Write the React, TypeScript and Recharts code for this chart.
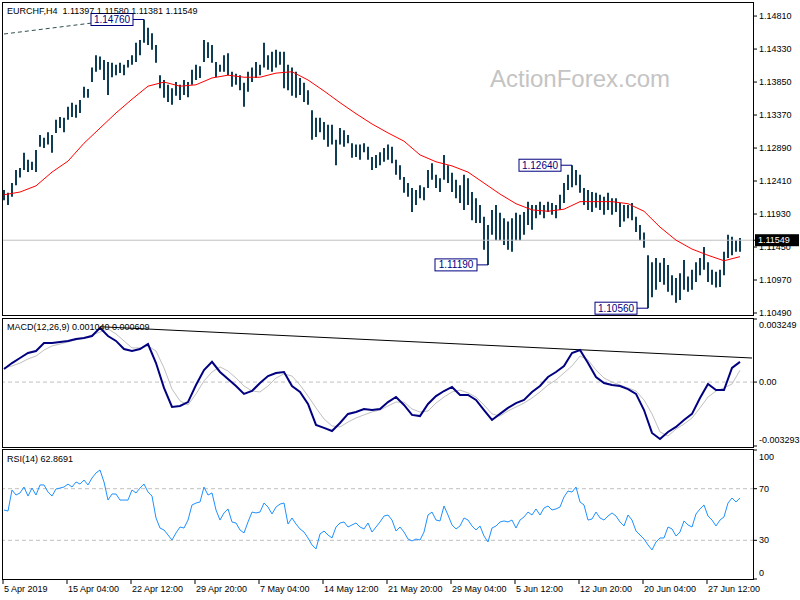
import React from "react";
import {
  ComposedChart,
  Bar,
  Line,
  XAxis,
  YAxis,
  ReferenceLine,
  ReferenceDot,
} from "recharts";

// EURCHF H4 — price bars, MA, MACD(12,26,9), RSI(14)

const timeLabels = [
  "5 Apr 2019", "15 Apr 04:00", "22 Apr 12:00", "29 Apr 20:00", "7 May 04:00", "14 May 12:00",
  "21 May 20:00", "29 May 04:00", "5 Jun 12:00", "12 Jun 20:00", "20 Jun 04:00", "27 Jun 12:00",
];

const barHigh = [
  1.1228, 1.1224, 1.1238, 1.1257, 1.1260, 1.1282, 1.1272, 1.1269, 1.1286, 1.1308,
  1.1304, 1.1312, 1.1308, 1.1330, 1.1334, 1.1333, 1.1349, 1.1355, 1.1352, 1.1359,
  1.1378, 1.1375, 1.1406, 1.1424, 1.1422, 1.1417, 1.1414, 1.1413, 1.1410, 1.1413,
  1.1410, 1.1417, 1.1424, 1.1442, 1.1446, 1.1476, 1.1464, 1.1456, 1.1439, 1.1395,
  1.1388, 1.1381, 1.1376, 1.1385, 1.1381, 1.1388, 1.1385, 1.1403, 1.1410, 1.1408,
  1.1446, 1.1443, 1.1439, 1.1414, 1.1410, 1.1424, 1.1427, 1.1400, 1.1397, 1.1395,
  1.1384, 1.1400, 1.1406, 1.1414, 1.1410, 1.1442, 1.1424, 1.1429, 1.1432, 1.1429,
  1.1429, 1.1410, 1.1406, 1.1400, 1.1391, 1.1384, 1.1373, 1.1344, 1.1333, 1.1333,
  1.1327, 1.1323, 1.1323, 1.1301, 1.1318, 1.1315, 1.1308, 1.1296, 1.1294, 1.1294,
  1.1296, 1.1291, 1.1276, 1.1279, 1.1283, 1.1289, 1.1294, 1.1291, 1.1272, 1.1264,
  1.1247, 1.1238, 1.1231, 1.1228, 1.1235, 1.1232, 1.1257, 1.1267, 1.1250, 1.1245,
  1.1279, 1.1264, 1.1253, 1.1243, 1.1235, 1.1250, 1.1245, 1.1225, 1.1216, 1.1206,
  1.1189, 1.1177, 1.1199, 1.1206, 1.1195, 1.1187, 1.1182, 1.1187, 1.1195, 1.1192,
  1.1196, 1.1211, 1.1206, 1.1206, 1.1211, 1.1206, 1.1211, 1.1209, 1.1206, 1.1221,
  1.1238, 1.1250, 1.1264, 1.1257, 1.1250, 1.1231, 1.1228, 1.1225, 1.1224, 1.1221,
  1.1218, 1.1224, 1.1216, 1.1216, 1.1209, 1.1206, 1.1206, 1.1209, 1.1189, 1.1177,
  1.1166, 1.1133, 1.1123, 1.1129, 1.1122, 1.1129, 1.1119, 1.1104, 1.1100, 1.1107,
  1.1126, 1.1102, 1.1112, 1.1123, 1.1129, 1.1145, 1.1123, 1.1112, 1.1109, 1.1112,
  1.1138, 1.1163, 1.1160, 1.1155, 1.1158,
];

const barLow = [
  1.1213, 1.1206, 1.1218, 1.1235, 1.1246, 1.1257, 1.1254, 1.1257, 1.1254, 1.1291,
  1.1289, 1.1294, 1.1282, 1.1311, 1.1318, 1.1312, 1.1330, 1.1334, 1.1333, 1.1340,
  1.1362, 1.1362, 1.1385, 1.1400, 1.1403, 1.1388, 1.1366, 1.1392, 1.1395, 1.1398,
  1.1395, 1.1406, 1.1410, 1.1414, 1.1424, 1.1442, 1.1439, 1.1432, 1.1413, 1.1376,
  1.1362, 1.1356, 1.1352, 1.1365, 1.1359, 1.1366, 1.1363, 1.1381, 1.1388, 1.1391,
  1.1414, 1.1420, 1.1413, 1.1392, 1.1400, 1.1400, 1.1395, 1.1378, 1.1381, 1.1373,
  1.1349, 1.1371, 1.1385, 1.1391, 1.1395, 1.1406, 1.1403, 1.1400, 1.1406, 1.1410,
  1.1376, 1.1373, 1.1365, 1.1362, 1.1366, 1.1356, 1.1352, 1.1301, 1.1305, 1.1312,
  1.1301, 1.1291, 1.1294, 1.1264, 1.1294, 1.1291, 1.1296, 1.1275, 1.1276, 1.1272,
  1.1283, 1.1272, 1.1257, 1.1260, 1.1264, 1.1269, 1.1272, 1.1267, 1.1250, 1.1243,
  1.1224, 1.1218, 1.1196, 1.1206, 1.1216, 1.1213, 1.1231, 1.1243, 1.1231, 1.1225,
  1.1243, 1.1238, 1.1225, 1.1216, 1.1209, 1.1199, 1.1206, 1.1184, 1.1180, 1.1180,
  1.1141, 1.1119, 1.1163, 1.1155, 1.1155, 1.1148, 1.1141, 1.1138, 1.1155, 1.1155,
  1.1163, 1.1177, 1.1170, 1.1187, 1.1192, 1.1187, 1.1196, 1.1192, 1.1187, 1.1199,
  1.1209, 1.1228, 1.1232, 1.1235, 1.1224, 1.1206, 1.1199, 1.1196, 1.1202, 1.1199,
  1.1192, 1.1199, 1.1192, 1.1196, 1.1174, 1.1182, 1.1187, 1.1184, 1.1167, 1.1155,
  1.1144, 1.1056, 1.1072, 1.1083, 1.1094, 1.1090, 1.1080, 1.1075, 1.1064, 1.1068,
  1.1083, 1.1080, 1.1083, 1.1094, 1.1104, 1.1112, 1.1094, 1.1090, 1.1086, 1.1087,
  1.1104, 1.1129, 1.1133, 1.1138, 1.1138,
];

// moving average, one value every 4th bar
const maValues = [
  1.1221, 1.1225, 1.1234, 1.1254, 1.1270, 1.1296, 1.1318, 1.1340, 1.1360, 1.1379,
  1.1385, 1.1379, 1.1381, 1.1391, 1.1395, 1.1392, 1.1392, 1.1398, 1.1400, 1.1388,
  1.1372, 1.1355, 1.1339, 1.1324, 1.1311, 1.1299, 1.1279, 1.1269, 1.1263, 1.1254,
  1.1238, 1.1222, 1.1208, 1.1199, 1.1197, 1.1200, 1.1211, 1.1211, 1.1211, 1.1208,
  1.1197, 1.1174, 1.1155, 1.1142, 1.1133, 1.1125, 1.1131,
];

// MACD main / signal, one value every 2nd bar
const macdMain = [
  0.00067, 0.00098, 0.00124, 0.0015, 0.0016, 0.00201, 0.00201, 0.00207, 0.00212, 0.00222,
  0.00227, 0.00237, 0.00279, 0.00237, 0.00212, 0.0017, 0.0016, 0.0017, 0.00196, 0.00098,
  -0.0003, -0.00128, -0.00123, -0.00103, -0.00015, 0.00062, 0.00104, 0.00052, 0.00016, -0.0002,
  -0.00061, -0.00046, -0.00005, 0.00031, 0.00047, 0.00052, -0.0002, -0.00051, -0.00113, -0.00221,
  -0.00236, -0.00252, -0.00211, -0.00164, -0.00154, -0.00139, -0.00144, -0.00139, -0.00103, -0.00077,
  -0.00118, -0.00169, -0.00175, -0.00113, -0.00072, -0.00046, -0.00025, -0.00066, -0.00066, -0.00092,
  -0.00144, -0.00195, -0.00164, -0.00133, -0.00108, -0.00092, -0.00051, -0.0002, 0.00026, 0.00052,
  0.00083, 0.0015, 0.00165, 0.00098, 0.00026, -0.00005, -0.00015, -0.0002, -0.00036, -0.00061,
  -0.00144, -0.00262, -0.00293, -0.00257, -0.00231, -0.00195, -0.00164, -0.00082, -0.0001, -0.00041,
  -0.00041, 0.00073, 0.00104,
];

const macdSignal = [
  0.00073, 0.00083, 0.00098, 0.00119, 0.00134, 0.00165, 0.00186, 0.00196, 0.00207, 0.00217,
  0.00227, 0.00243, 0.00258, 0.00274, 0.00248, 0.00212, 0.00176, 0.00176, 0.00186, 0.0016,
  0.00073, -0.00036, -0.00097, -0.00118, -0.00061, 0.00006, 0.00052, 0.00078, 0.00057, 0.00021,
  -0.0002, -0.00046, -0.00051, -0.0002, 0.00021, 0.00042, 0.00031, -0.00015, -0.00072, -0.00133,
  -0.0019, -0.00226, -0.00231, -0.00206, -0.00185, -0.00169, -0.00154, -0.00144, -0.00123, -0.00103,
  -0.00103, -0.00139, -0.00154, -0.00149, -0.00108, -0.00077, -0.00051, -0.00041, -0.00056, -0.00077,
  -0.00118, -0.00164, -0.00175, -0.00149, -0.00128, -0.00108, -0.00082, -0.00051, -0.00015, 0.00011,
  0.00047, 0.00083, 0.00134, 0.00114, 0.00062, 0.00021, 0.0, -0.00015, -0.0003, -0.00046,
  -0.00092, -0.00164, -0.00257, -0.00278, -0.00242, -0.00216, -0.00185, -0.00133, -0.00077, -0.00046,
  -0.0003, -0.0001, 0.000609,
];

const rsiValues = [
  53.5, 52.7, 69.0, 65.1, 66.7, 71.3, 64.3, 70.5, 65.1, 72.9,
  72.9, 67.4, 64.3, 69.8, 70.5, 71.3, 73.6, 71.3, 75.2, 73.6,
  76.7, 72.9, 78.3, 82.2, 84.5, 75.2, 61.2, 65.9, 65.9, 61.2,
  61.2, 61.2, 69.0, 66.7, 70.5, 73.6, 67.4, 64.3, 47.3, 39.5,
  38.0, 34.1, 30.2, 35.7, 40.3, 39.5, 45.7, 57.4, 58.9, 59.7,
  71.3, 65.1, 66.7, 53.5, 45.7, 51.2, 54.3, 44.2, 43.4, 38.0,
  35.7, 44.2, 51.9, 51.2, 51.9, 58.9, 55.8, 50.4, 55.8, 58.1,
  58.9, 42.6, 47.3, 42.6, 38.8, 36.4, 31.8, 26.4, 23.3, 34.9,
  37.2, 34.1, 31.8, 40.3, 43.4, 44.2, 40.3, 41.9, 43.4, 40.3,
  38.8, 43.4, 36.4, 40.3, 44.2, 48.8, 49.6, 45.7, 37.2, 40.3,
  36.4, 31.0, 29.5, 31.0, 30.2, 36.4, 49.6, 51.9, 45.7, 45.0,
  56.6, 49.6, 41.9, 38.8, 41.1, 47.3, 45.7, 41.1, 38.0, 41.1,
  33.3, 28.7, 39.5, 41.1, 44.2, 45.0, 44.2, 45.7, 39.5, 45.7,
  48.1, 51.9, 49.6, 54.3, 49.6, 55.0, 56.6, 53.5, 54.3, 55.8,
  63.6, 68.2, 67.4, 71.3, 59.7, 57.4, 45.7, 46.5, 51.9, 47.3,
  45.7, 48.8, 51.2, 48.8, 44.2, 41.1, 49.6, 45.7, 37.2, 34.1,
  31.0, 26.4, 22.5, 28.7, 31.8, 31.8, 40.3, 38.8, 33.3, 36.4,
  45.0, 41.9, 40.3, 50.4, 54.3, 57.4, 48.8, 45.7, 41.1, 45.7,
  48.1, 58.9, 62.8, 59.7, 62.87,
];

const priceTicks = [1.1481, 1.1433, 1.1385, 1.1337, 1.1289, 1.1241, 1.1193, 1.1145, 1.1097, 1.1049];
const lastPrice = 1.11549;
const macdTicks = [0.003249, 0, -0.003293];
const rsiTicks = [100, 70, 30, 0];

const swingLabels = [
  { k: 35, price: 1.1476, text: "1.14760" },
  { k: 121, price: 1.1119, text: "1.11190" },
  { k: 142, price: 1.1264, text: "1.12640" },
  { k: 161, price: 1.1056, text: "1.10560" },
];

const SLOTS = 188; // a few empty slots on the right, like MT4's shift
const rows = Array.from({ length: SLOTS }, (_, k) => ({
  k,
  high: k < barHigh.length ? barHigh[k] : null,
  low: k < barLow.length ? barLow[k] : null,
  ma: k % 4 === 0 && k / 4 < maValues.length ? maValues[k / 4] : null,
  macd: k % 2 === 0 && k / 2 < macdMain.length ? macdMain[k / 2] : null,
  signal: k % 2 === 0 && k / 2 < macdSignal.length ? macdSignal[k / 2] : null,
  rsi: k < rsiValues.length ? rsiValues[k] : null,
}));

const FONT = "'Liberation Sans', Arial, sans-serif";
const MARGIN_X = { left: 2, right: 0 };

function PriceTick(props: any) {
  const { x, y, payload } = props;
  if (payload.value === lastPrice) {
    return (
      <g>
        <rect x={x - 4} y={y - 6} width={44} height={12} fill="#000" />
        <text x={x - 1} y={y + 3} fontSize={9} fill="#fff">
          {lastPrice.toFixed(5)}
        </text>
      </g>
    );
  }
  return (
    <text x={x} y={y + 3} fontSize={9} fill="#000">
      {payload.value.toFixed(5)}
    </text>
  );
}

function MacdTick(props: any) {
  const { x, y, payload } = props;
  const v = payload.value;
  const label = v === 0 ? "0.00" : v.toFixed(6);
  const shift = v > 0 ? 6 : v < 0 ? -6 : 0;
  return (
    <text x={x} y={y + 3 + shift} fontSize={9} fill="#000">
      {label}
    </text>
  );
}

function RsiTick(props: any) {
  const { x, y, payload } = props;
  const v = payload.value;
  const shift = v === 100 ? 7 : v === 0 ? -6 : 0;
  return (
    <text x={x} y={y + 3 + shift} fontSize={9} fill="#000">
      {v}
    </text>
  );
}

function TimeTick(props: any) {
  const { x, y, payload } = props;
  const k = payload.value;
  if (k % 16 !== 0) return <g />;
  return (
    <g>
      <line x1={x - 1} y1={y + 1} x2={x - 1} y2={y + 5} stroke="#000" />
      <text x={x} y={y + 13} fontSize={9} fill="#000">
        {timeLabels[k / 16]}
      </text>
    </g>
  );
}

function SwingTag(props: any) {
  const { cx, cy, text } = props;
  return (
    <g>
      <line x1={cx - 11} y1={cy} x2={cx} y2={cy} stroke="#000080" />
      <rect x={cx - 53} y={cy - 6} width={42} height={12} fill="#fff" stroke="#000080" />
      <text x={cx - 32} y={cy + 3.5} textAnchor="middle" fontSize={10} fill="#000080">
        {text}
      </text>
    </g>
  );
}

export default function App() {
  return (
    <div
      style={{
        position: "absolute",
        left: 0,
        top: 0,
        width: 800,
        height: 600,
        background: "#fff",
        fontFamily: FONT,
        overflow: "hidden",
      }}
    >
      {/* price panel */}
      <div style={{ position: "absolute", left: 0, top: 0 }}>
        <ComposedChart width={800} height={318} data={rows} margin={{ top: 3, bottom: 3, ...MARGIN_X }}>
          <XAxis dataKey="k" type="category" scale="band" hide />
          <YAxis
            orientation="right"
            width={46}
            domain={[1.10461, 1.15]}
            allowDataOverflow
            ticks={[...priceTicks, lastPrice]}
            interval={0}
            axisLine={false}
            tickSize={3}
            tickMargin={2}
            tickLine={{ stroke: "#000" }}
            tick={<PriceTick />}
          />
          <ReferenceLine y={lastPrice} stroke="#c0c0c0" />
          <ReferenceLine
            segment={[
              { x: 0, y: 1.14549 },
              { x: 22, y: 1.14709 },
            ]}
            stroke="#2f4f4f"
            strokeDasharray="4 3"
          />
          <Bar
            dataKey={(d: any) => (d.high == null ? null : [d.low, d.high])}
            fill="#0f3d56"
            barSize={2}
            isAnimationActive={false}
          />
          <Line
            dataKey="ma"
            stroke="#ff0000"
            strokeWidth={1}
            dot={false}
            connectNulls
            isAnimationActive={false}
          />
          {swingLabels.map((s) => (
            <ReferenceDot
              key={s.text}
              x={s.k}
              y={s.price}
              r={0}
              shape={(p: any) => <SwingTag {...p} text={s.text} />}
            />
          ))}
        </ComposedChart>
      </div>

      {/* MACD panel */}
      <div style={{ position: "absolute", left: 0, top: 318 }}>
        <ComposedChart width={800} height={129} data={rows} margin={{ top: 1, bottom: 1, ...MARGIN_X }}>
          <XAxis dataKey="k" type="category" scale="band" hide />
          <YAxis
            orientation="right"
            width={46}
            domain={[-0.003293, 0.003249]}
            allowDataOverflow
            ticks={macdTicks}
            interval={0}
            axisLine={false}
            tickSize={3}
            tickMargin={2}
            tickLine={{ stroke: "#000" }}
            tick={<MacdTick />}
          />
          <ReferenceLine y={0} stroke="#c0c0c0" strokeDasharray="4 3" />
          <ReferenceLine
            segment={[
              { x: 24, y: 0.00285 },
              { x: 187, y: 0.00124 },
            ]}
            stroke="#000"
          />
          <Line
            dataKey="signal"
            stroke="#c0c0c0"
            strokeWidth={1}
            dot={false}
            connectNulls
            isAnimationActive={false}
          />
          <Line
            dataKey="macd"
            stroke="#000080"
            strokeWidth={2}
            dot={false}
            connectNulls
            isAnimationActive={false}
          />
        </ComposedChart>
      </div>

      {/* RSI panel + time axis */}
      <div style={{ position: "absolute", left: 0, top: 449 }}>
        <ComposedChart width={800} height={151} data={rows} margin={{ top: 1, bottom: 0, ...MARGIN_X }}>
          <XAxis
            dataKey="k"
            type="category"
            scale="band"
            height={21}
            axisLine={false}
            tickLine={false}
            tickSize={0}
            tickMargin={0}
            interval={0}
            tick={<TimeTick />}
          />
          <YAxis
            orientation="right"
            width={46}
            domain={[0, 100]}
            allowDataOverflow
            ticks={rsiTicks}
            interval={0}
            axisLine={false}
            tickSize={3}
            tickMargin={2}
            tickLine={{ stroke: "#000" }}
            tick={<RsiTick />}
          />
          <ReferenceLine y={70} stroke="#c0c0c0" strokeDasharray="4 3" />
          <ReferenceLine y={30} stroke="#c0c0c0" strokeDasharray="4 3" />
          <Line
            dataKey="rsi"
            stroke="#1e90ff"
            strokeWidth={1}
            dot={false}
            isAnimationActive={false}
          />
        </ComposedChart>
      </div>

      {/* frames and captions */}
      <svg
        width={800}
        height={600}
        style={{ position: "absolute", left: 0, top: 0, pointerEvents: "none" }}
      >
        <rect x={2.5} y={2.5} width={751} height={313} fill="none" stroke="#000" />
        <rect x={2.5} y={318.5} width={751} height={129} fill="none" stroke="#000" />
        <rect x={2.5} y={449.5} width={751} height={130} fill="none" stroke="#000" />
        <text x={490} y={87} fontSize={24} fill="#c4c4c4">
          ActionForex.com
        </text>
        <text x={7} y={14} fontSize={9} fill="#000" style={{ whiteSpace: "pre" }}>
          {"EURCHF,H4  1.11397 1.11580 1.11381 1.11549"}
        </text>
        <text x={7} y={330} fontSize={9} fill="#000">
          MACD(12,26,9) 0.001040 0.000609
        </text>
        <text x={7} y={462} fontSize={9} fill="#000">
          RSI(14) 62.8691
        </text>
      </svg>
    </div>
  );
}
